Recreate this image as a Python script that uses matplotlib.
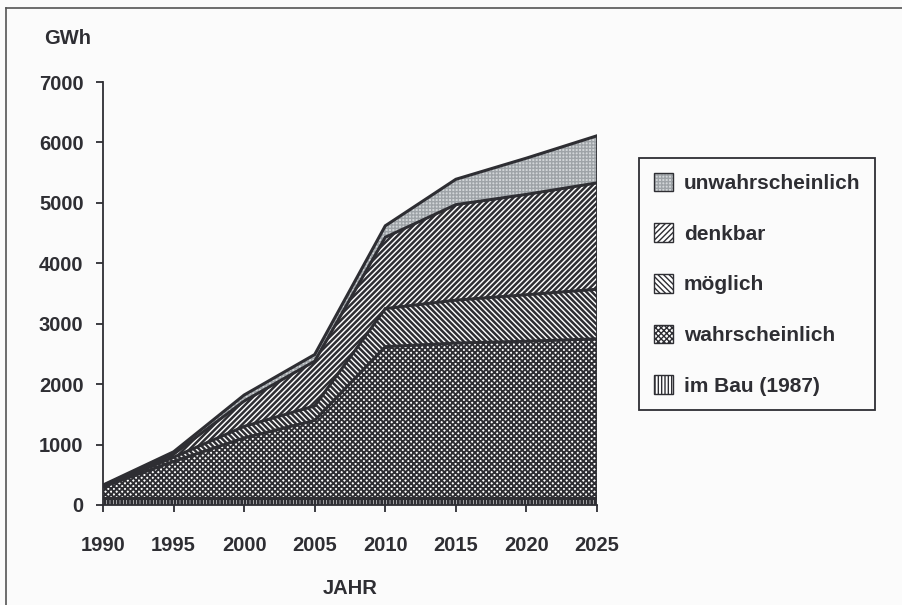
import numpy as np
import matplotlib
matplotlib.use('Agg')
import matplotlib.pyplot as plt
from matplotlib.patches import Patch
from matplotlib.lines import Line2D
from matplotlib.legend_handler import HandlerTuple

plt.rcParams['font.family'] = ['Liberation Sans', 'DejaVu Sans']
plt.rcParams['font.weight'] = 'bold'

# data (GWh per layer, stacked)
years = [1990, 1995, 2000, 2005, 2010, 2015, 2020, 2025]
im_bau = [110, 110, 110, 110, 110, 110, 110, 110]
wahrscheinlich = [190, 610, 1000, 1290, 2510, 2570, 2600, 2640]
moeglich = [10, 70, 190, 240, 630, 710, 770, 820]
denkbar = [10, 50, 420, 740, 1180, 1580, 1660, 1760]
unwahrscheinlich = [10, 40, 100, 110, 190, 420, 600, 780]

labels = ['im Bau (1987)', 'wahrscheinlich', 'möglich', 'denkbar', 'unwahrscheinlich']
layers = [im_bau, wahrscheinlich, moeglich, denkbar, unwahrscheinlich]

ink = '#2e2e33'
bg = '#fbfbfb'
# (facecolor, hatch colour, hatch, hatch linewidth)
styles = [
    ('white', ink, '|||||', 2.0),
    ('white', ink, 'xxxxxx', 1.4),
    ('white', ink, '\\\\\\\\\\\\', 1.8),
    ('white', ink, '//////', 1.8),
    ('#d3d6d9', '#9ea3a7', '+++++', 1.0),
]

fig = plt.figure(figsize=(9.02, 6.05), dpi=100, facecolor=bg)
ax = fig.add_axes([103 / 902, 1 - 505 / 605, 494 / 902, 423 / 605])
ax.set_facecolor(bg)

x = np.array(years)
bottom = np.zeros(len(years))
handles = []
for vals, lab, (fc, hc, h, hlw) in zip(layers, labels, styles):
    top = bottom + np.array(vals)
    with plt.rc_context({'hatch.linewidth': hlw}):
        ax.fill_between(x, bottom, top, facecolor=fc, edgecolor=hc, hatch=h, linewidth=0)
        fill = Patch(facecolor=fc, edgecolor=hc, hatch=h, linewidth=0)
    border = Patch(facecolor='none', edgecolor=ink, linewidth=1.0)
    handles.append((fill, border))
    ax.plot(x, top, color=ink, lw=2.2, solid_joinstyle='miter')
    bottom = top

ax.plot([x[-1], x[-1]], [0, bottom[-1]], color=ink, lw=2.0)

ax.set_xlim(1990, 2025)
ax.set_ylim(0, 7000)
ax.set_xticks(years)
ax.set_yticks(range(0, 7001, 1000))
for s in ['top', 'right']:
    ax.spines[s].set_visible(False)
for s in ['left', 'bottom']:
    ax.spines[s].set_color(ink)
    ax.spines[s].set_linewidth(1.3)
ax.tick_params(axis='x', direction='out', length=5, width=1.3, color=ink,
               pad=17, labelsize=14.5, labelcolor=ink)
ax.tick_params(axis='y', direction='out', length=5, width=1.3, color=ink,
               pad=9, labelsize=14.5, labelcolor=ink)

fig.text(44 / 902, 1 - 39 / 605, 'GWh', fontsize=14.5, color=ink, va='center', ha='left')
fig.text(350 / 902, 1 - 589 / 605, 'JAHR', fontsize=14.5, color=ink, va='center', ha='center')

leg = fig.legend(handles[::-1], labels[::-1], loc='upper left',
                 handler_map={tuple: HandlerTuple(ndivide=1, pad=0)},
                 bbox_to_anchor=(639 / 902, 1 - 158 / 605), borderaxespad=0,
                 fontsize=15, handlelength=0.95, handleheight=1.0, handletextpad=0.5,
                 labelspacing=1.45, borderpad=0.7, frameon=True, fancybox=False,
                 edgecolor=ink, facecolor=bg, framealpha=1)
leg.get_frame().set_linewidth(1.3)
for t in leg.get_texts():
    t.set_color(ink)

# scan frame (top and left edges only)
fig.add_artist(Line2D([6 / 902, 6 / 902], [0, 1 - 8 / 605], color='#555', lw=1.2))
fig.add_artist(Line2D([6 / 902, 1], [1 - 8 / 605, 1 - 8 / 605], color='#555', lw=1.2))

fig.savefig('out.png', dpi=100, facecolor=bg)
